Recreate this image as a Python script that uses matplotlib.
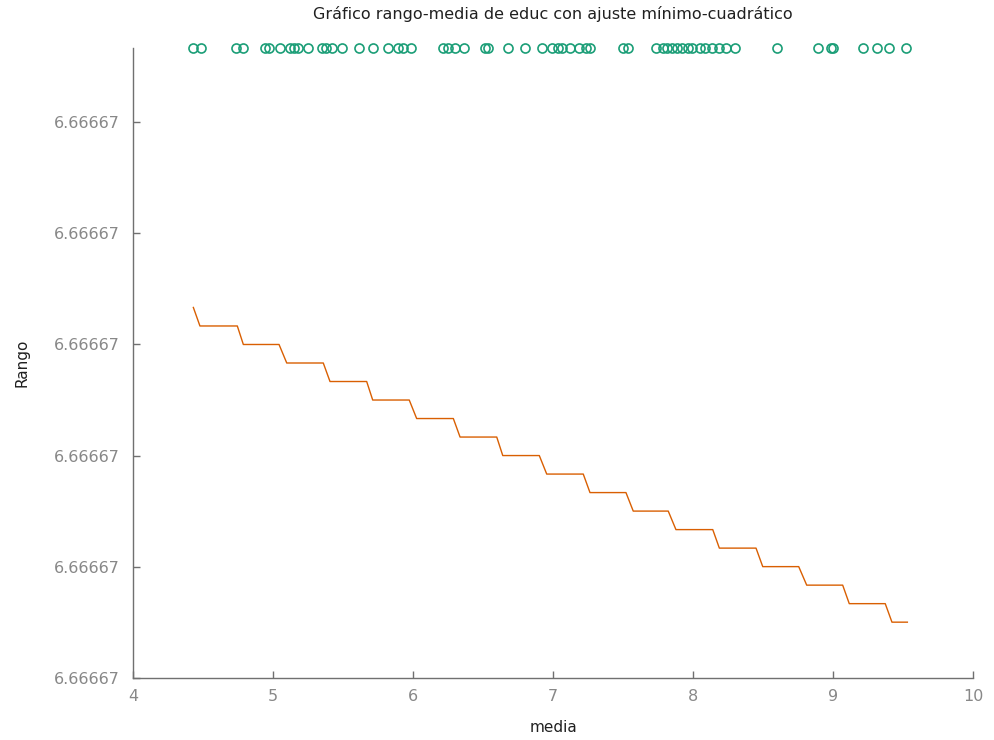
import matplotlib
matplotlib.use("Agg")
import matplotlib.pyplot as plt

# Data (y measured in floating-point steps above the bottom of the axis; all are 6.66667)
media = [4.43, 4.48, 4.73, 4.78, 4.94, 4.97, 5.05, 5.12, 5.15, 5.18, 5.25, 5.35,
         5.38, 5.42, 5.49, 5.61, 5.71, 5.82, 5.89, 5.93, 5.98, 6.21, 6.25, 6.30,
         6.36, 6.51, 6.53, 6.68, 6.80, 6.92, 6.99, 7.03, 7.06, 7.12, 7.18, 7.23,
         7.26, 7.50, 7.53, 7.73, 7.78, 7.81, 7.85, 7.88, 7.92, 7.96, 7.99, 8.05,
         8.08, 8.13, 8.18, 8.23, 8.30, 8.60, 8.89, 8.98, 9.00, 9.21, 9.31, 9.40,
         9.52]
rango = [34, 34, 34, 34, 34, 34, 34, 34, 34, 34, 34, 34,
         34, 34, 34, 34, 34, 34, 34, 34, 34, 34, 34, 34,
         34, 34, 34, 34, 34, 34, 34, 34, 34, 34, 34, 34,
         34, 34, 34, 34, 34, 34, 34, 34, 34, 34, 34, 34,
         34, 34, 34, 34, 34, 34, 34, 34, 34, 34, 34, 34,
         34]

fit_x = [4.429, 4.476, 4.743, 4.786, 5.041, 5.096, 5.357, 5.405, 5.667, 5.710,
         5.971, 6.024, 6.286, 6.334, 6.596, 6.639, 6.900, 6.953, 7.214, 7.262,
         7.519, 7.571, 7.821, 7.876, 8.139, 8.186, 8.448, 8.496, 8.753, 8.810,
         9.067, 9.114, 9.371, 9.419, 9.529]
fit_y = [20, 19, 19, 18, 18, 17, 17, 16, 16, 15,
         15, 14, 14, 13, 13, 12, 12, 11, 11, 10,
         10, 9, 9, 8, 8, 7, 7, 6, 6, 5,
         5, 4, 4, 3, 3]

x_ticks = [4, 5, 6, 7, 8, 9, 10]
y_ticks = [0, 6, 12, 18, 24, 30]
y_tick_labels = ["6.66667", "6.66667", "6.66667", "6.66667", "6.66667", "6.66667"]

title = "Gráfico rango-media de educ con ajuste mínimo-cuadrático"

W, H = 994, 740
fig = plt.figure(figsize=(W / 100, H / 100), dpi=100)
left, right, bottom, top = 133.3, 973.3, 677.7, 48.3
ax = fig.add_axes([left / W, 1 - bottom / H, (right - left) / W, (bottom - top) / H])

ax.plot(fit_x, fit_y, color="#d95f02", lw=1.0, zorder=2)
ax.plot(media, rango, linestyle="none", marker="o", markersize=6.5,
        markerfacecolor="none", markeredgecolor="#1b9e77", markeredgewidth=1.2,
        clip_on=False, zorder=3)

ax.set_xlim(4, 10)
ax.set_ylim(0, 34)
ax.set_xticks(x_ticks)
ax.set_xticklabels([str(t) for t in x_ticks])
ax.set_yticks(y_ticks)
ax.set_yticklabels(y_tick_labels)

for s in ["top", "right"]:
    ax.spines[s].set_visible(False)
for s in ["left", "bottom"]:
    ax.spines[s].set_color("#707070")
    ax.spines[s].set_linewidth(1.0)

ax.tick_params(axis="both", direction="in", length=5, width=1, color="#707070",
               labelcolor="#888888", labelsize=11.5)
ax.tick_params(axis="x", pad=8)
ax.tick_params(axis="y", pad=10)

ax.set_title(title, fontsize=11.5, color="#202020", pad=21)
ax.set_xlabel("media", fontsize=11, color="#202020", labelpad=12)
ax.set_ylabel("Rango", fontsize=11, color="#202020", labelpad=17)

fig.savefig("out.png", dpi=100, facecolor="white")
